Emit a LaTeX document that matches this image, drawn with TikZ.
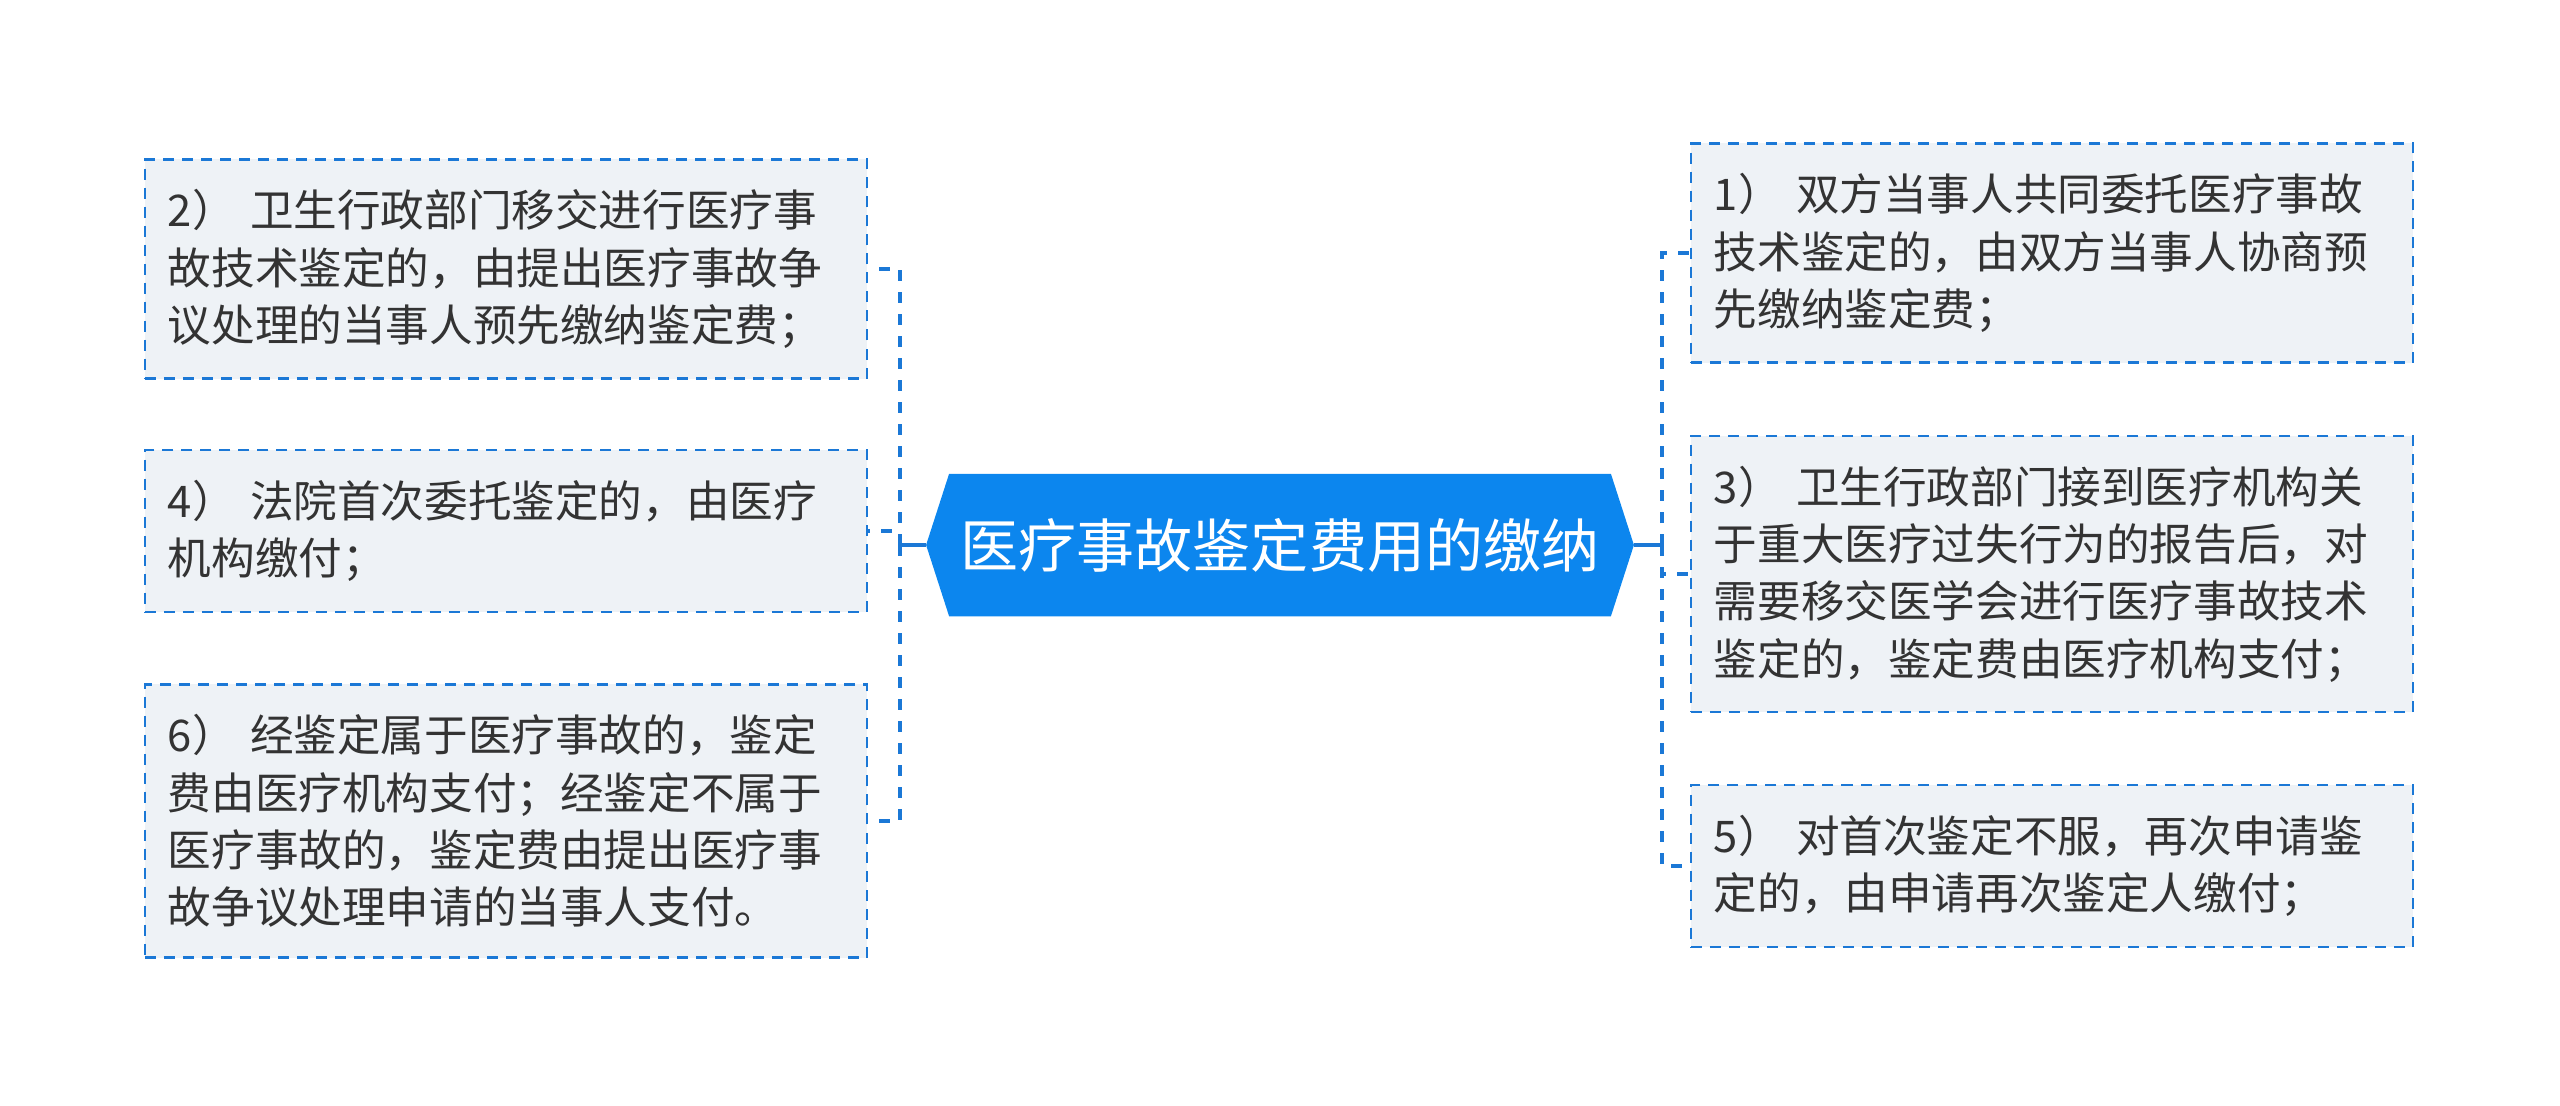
\documentclass[tikz,border=0pt]{standalone}
\usepackage{fontspec}
\newfontfamily\cjk{Noto Sans CJK SC}
\usepackage{xcolor}
\usetikzlibrary{backgrounds}
\definecolor{linkblue}{HTML}{1B78D6}
\definecolor{rootblue}{HTML}{0C86EE}
\definecolor{leaffill}{HTML}{EEF2F6}
\definecolor{leaftext}{HTML}{333333}

\begin{document}
\begin{tikzpicture}[x=0.01cm,y=-0.01cm,
  leaf/.style={draw=linkblue,fill=leaffill,dash pattern=on 0.11cm off 0.08cm,line width=0.65pt,
    text width=6.76cm,inner xsep=0.23cm,inner ysep=0.3cm,align=left,
    text=leaftext,font=\cjk\fontsize{12.4pt}{16.3pt}\selectfont},
  link/.style={linkblue,line width=1.3pt,dash pattern=on 0.11cm off 0.11cm}]
  \useasboundingbox (0,0) rectangle (2560,1105);
  % central topic
  \node[text=white,font=\cjk\fontsize{16.5pt}{20pt}\selectfont,minimum width=6.6cm,
    minimum height=1.41cm,inner sep=0pt] (root) at (1280,545) {医疗事故鉴定费用的缴纳};
  \begin{scope}[on background layer]
    \fill[rootblue] (root.north west) -- (root.north east) -- ([xshift=0.23cm]root.east)
      -- (root.south east) -- (root.south west) -- ([xshift=-0.23cm]root.west) -- cycle;
  \end{scope}
  % left side
  \node[leaf] (b2) at (506,269) {2）\hspace{.33em}卫生行政部门移交进行医疗事\\故技术鉴定的，由提出医疗事故争\\议处理的当事人预先缴纳鉴定费；};
  \node[leaf] (b4) at (506,531) {4）\hspace{.33em}法院首次委托鉴定的，由医疗\\机构缴付；};
  \node[leaf] (b6) at (506,821) {6）\hspace{.33em}经鉴定属于医疗事故的，鉴定\\费由医疗机构支付；经鉴定不属于\\医疗事故的，鉴定费由提出医疗事\\故争议处理申请的当事人支付。};
  % right side
  \node[leaf] (b1) at (2052,253) {1）\hspace{.33em}双方当事人共同委托医疗事故\\技术鉴定的，由双方当事人协商预\\先缴纳鉴定费；};
  \node[leaf] (b3) at (2052,574) {3）\hspace{.33em}卫生行政部门接到医疗机构关\\于重大医疗过失行为的报告后，对\\需要移交医学会进行医疗事故技术\\鉴定的，鉴定费由医疗机构支付；};
  \node[leaf] (b5) at (2052,866) {5）\hspace{.33em}对首次鉴定不服，再次申请鉴\\定的，由申请再次鉴定人缴付；};
  % connectors
  \coordinate (lj) at (900,545);
  \coordinate (rj) at (1662,545);
  \draw[linkblue,line width=1.3pt] ([xshift=-0.23cm]root.west) -- (lj);
  \draw[linkblue,line width=1.3pt] ([xshift=0.23cm]root.east) -- (rj);
  \foreach \n in {b2,b4,b6} \draw[link] (lj) |- (\n.east);
  \foreach \n in {b1,b3,b5} \draw[link] (rj) |- (\n.west);
\end{tikzpicture}
\end{document}
